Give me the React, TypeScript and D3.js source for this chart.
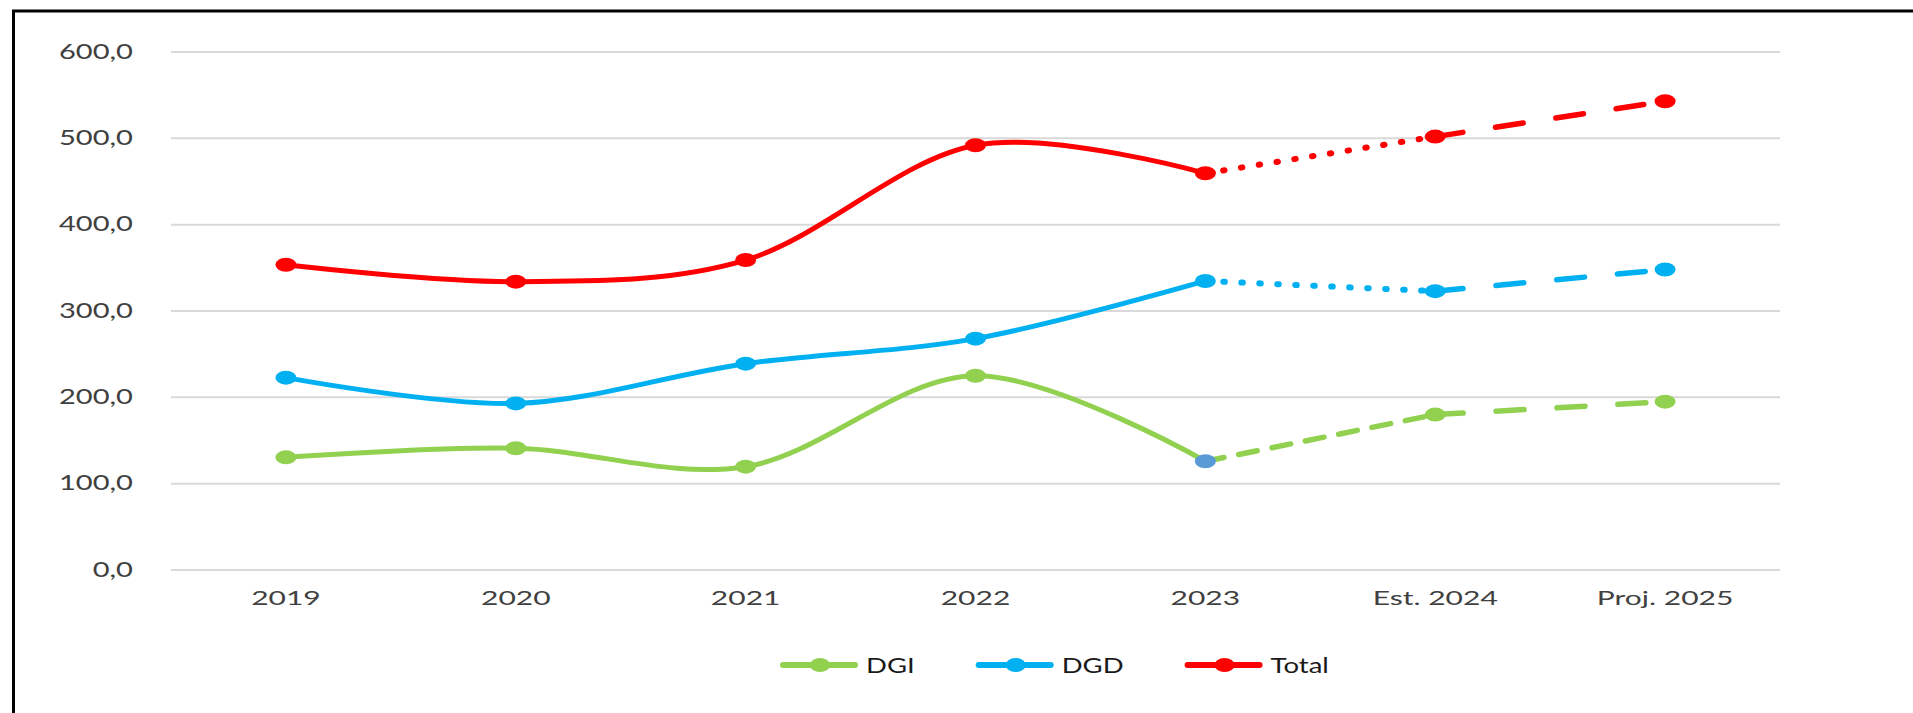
import React, { useEffect, useRef } from "react";
import * as d3 from "d3";

const categories = ["2019", "2020", "2021", "2022", "2023", "Est. 2024", "Proj. 2025"];
const dgiValues = [130.5, 141, 119.7, 225, 126, 180, 195];
const dgdValues = [222.8, 193, 239, 268, 334.8, 323, 348];
const totalValues = [353.5, 334, 359, 492, 459.5, 502, 543];
const yTicks = [0, 100, 200, 300, 400, 500, 600];

const seriesNames = ["DGI", "DGD", "Total"];
// style of the two forecast segments: 2023 -> Est. 2024, Est. 2024 -> Proj. 2025
const forecastStyles = [
  ["short", "dash"],
  ["dot", "dash"],
  ["dot", "dash"],
];

const App = () => {
  const svgRef = useRef<SVGSVGElement>(null);

  useEffect(() => {
    const width = 1913;
    const height = 713;
    const margin = { left: 171, right: 133, top: 52, bottom: 143 };
    const colors = ["#92D050", "#00B0F0", "#FF0000"];
    const font = "Lato, 'DejaVu Sans', sans-serif";
    const stretch = 1.42; // the original picture is stretched sideways

    const svg = d3.select(svgRef.current).attr("width", width).attr("height", height);
    svg.selectAll("*").remove();

    const x = d3
      .scaleBand()
      .domain(categories)
      .range([margin.left, width - margin.right]);
    const cx = (c: string) => (x(c) as number) + x.bandwidth() / 2;

    const y = d3
      .scaleLinear()
      .domain([0, 600])
      .range([height - margin.bottom, margin.top]);

    const fmt = (v: number) => d3.format(".1f")(v).replace(".", ",");

    // frame
    svg
      .append("path")
      .attr("d", `M13.5,713 V11 H1913`)
      .attr("fill", "none")
      .attr("stroke", "#000")
      .attr("stroke-width", 3);

    // gridlines
    svg
      .append("g")
      .selectAll("line")
      .data(yTicks)
      .join("line")
      .attr("x1", margin.left)
      .attr("x2", width - margin.right)
      .attr("y1", (d) => y(d))
      .attr("y2", (d) => y(d))
      .attr("stroke", "#d9d9d9")
      .attr("stroke-width", 2);

    // y labels
    svg
      .append("g")
      .selectAll("text")
      .data(yTicks)
      .join("text")
      .attr("transform", (d) => `translate(133,${y(d) + 6.5}) scale(${stretch},1)`)
      .attr("text-anchor", "end")
      .style("font-family", font)
      .style("font-size", "20.5px")
      .attr("fill", "#404040")
      .text((d) => fmt(d));

    // x labels
    svg
      .append("g")
      .selectAll("text")
      .data(categories)
      .join("text")
      .attr("transform", (d) => `translate(${cx(d)},605) scale(1.5,1)`)
      .attr("text-anchor", "middle")
      .style("font-family", font)
      .style("font-size", "20px")
      .attr("fill", "#404040")
      .text((d) => d);

    const allSeries = [dgiValues, dgdValues, totalValues];
    const dash: Record<string, string> = { dash: "28 33", short: "19 15", dot: "1.5 16.5" };

    const smooth = d3
      .line<number>()
      .x((_, i) => cx(categories[i]))
      .y((d) => y(d))
      .curve(d3.curveCardinal.tension(0));

    allSeries.forEach((vals, s) => {
      const g = svg.append("g");
      // actual years, smoothed
      g.append("path")
        .attr("d", smooth(vals.slice(0, 5)))
        .attr("fill", "none")
        .attr("stroke", colors[s])
        .attr("stroke-width", 5)
        .attr("stroke-linecap", "round");

      // forecast segments
      forecastStyles[s].forEach((st, k) => {
        const i = 4 + k;
        g.append("line")
          .attr("x1", cx(categories[i]))
          .attr("y1", y(vals[i]))
          .attr("x2", cx(categories[i + 1]))
          .attr("y2", y(vals[i + 1]))
          .attr("stroke", colors[s])
          .attr("stroke-width", st === "dot" ? 6 : 5.5)
          .attr("stroke-linecap", "round")
          .attr("stroke-dasharray", dash[st]);
      });

      g.selectAll("ellipse")
        .data(vals)
        .join("ellipse")
        .attr("cx", (_, i) => cx(categories[i]))
        .attr("cy", (d) => y(d))
        .attr("rx", 10.5)
        .attr("ry", 7)
        .attr("fill", (_, i) => (s === 0 && i === 4 ? "#5B9BD5" : colors[s]));
    });

    // legend
    const legend = svg.append("g").attr("transform", "translate(780,665)");
    let offset = 0;
    seriesNames.forEach((name, s) => {
      const item = legend.append("g").attr("transform", `translate(${offset},0)`);
      item
        .append("line")
        .attr("x1", 3)
        .attr("x2", 75)
        .attr("stroke", colors[s])
        .attr("stroke-width", 6)
        .attr("stroke-linecap", "round");
      item.append("ellipse").attr("cx", 40).attr("rx", 10).attr("ry", 7).attr("fill", colors[s]);
      const t = item
        .append("text")
        .attr("transform", `translate(86,8) scale(1.25,1)`)
        .style("font-family", font)
        .style("font-size", "22px")
        .attr("fill", "#1a1a1a")
        .text(name);
      const w = (t.node() as SVGTextElement).getComputedTextLength() * 1.25;
      offset += 86 + w + 61;
    });
  }, []);

  return (
    <div style={{ position: "absolute", left: 0, top: 0, background: "#fff" }}>
      <svg ref={svgRef} style={{ display: "block" }}></svg>
    </div>
  );
};

export default App;
